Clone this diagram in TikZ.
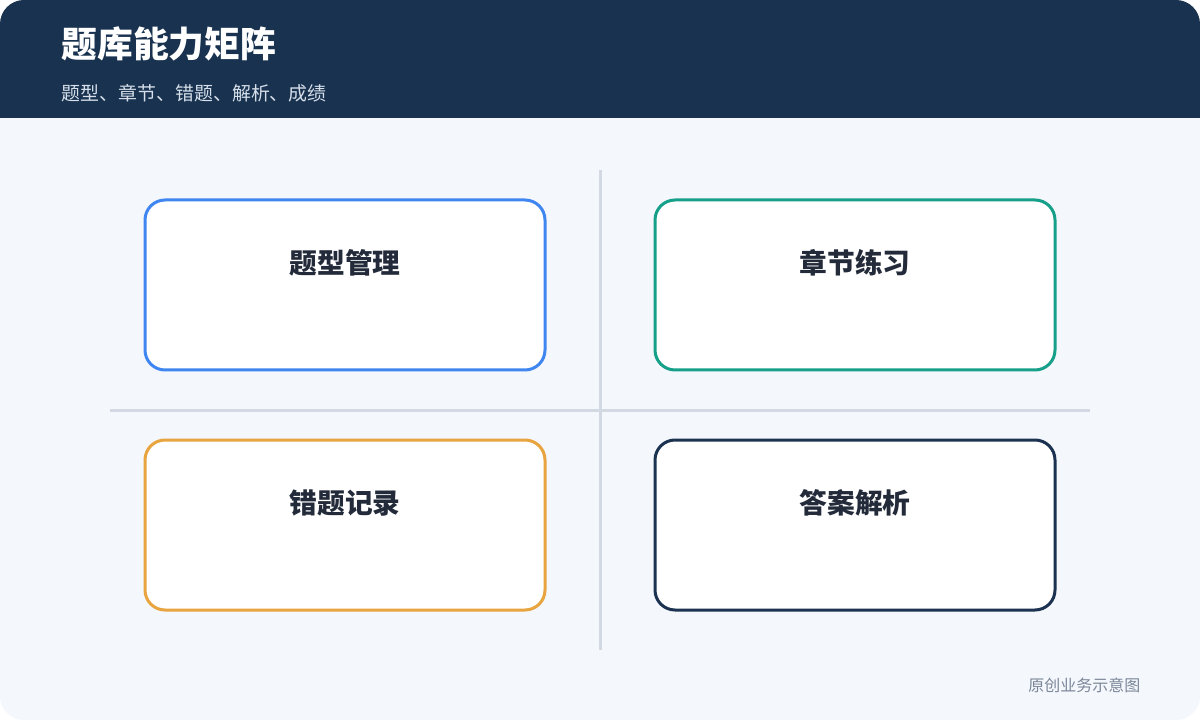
\documentclass[tikz,border=0pt]{standalone}
\usepackage{fontspec}
\setmainfont{Noto Sans CJK SC}
\newfontfamily\cjk{Noto Sans CJK SC}
\definecolor{headbg}{HTML}{18324F}
\definecolor{bodybg}{HTML}{F4F7FC}
\definecolor{divider}{HTML}{D2D9E3}
\definecolor{cblue}{HTML}{3F86F0}
\definecolor{cteal}{HTML}{16A08A}
\definecolor{corange}{HTML}{E8A43F}
\definecolor{cnavy}{HTML}{1B3250}
\definecolor{labeltxt}{HTML}{232B3A}
\definecolor{subtxt}{HTML}{D6DFEA}
\definecolor{foottxt}{HTML}{7B8799}
\tikzset{
  card/.style={draw=#1, line width=2.25pt, fill=white, rounded corners=15pt},
  cardlabel/.style={font=\cjk\bfseries\fontsize{20.8pt}{24pt}\selectfont, text=labeltxt, anchor=center},
  divline/.style={draw=divider, line width=2.25pt}
}
\begin{document}
\begin{tikzpicture}[x=0.75pt,y=-0.75pt]
\useasboundingbox (0,0) rectangle (1200,720);
\fill[white] (0,0) rectangle (1200,720);
\begin{scope}
\clip[rounded corners=18pt] (0,0) rectangle (1200,720);
\fill[bodybg] (0,0) rectangle (1200,720);
\fill[headbg] (0,0) rectangle (1200,118);
\end{scope}
\node[anchor=west, text=white, font=\cjk\bfseries\fontsize{26.8pt}{30pt}\selectfont] (title) at (57,44) {题库能力矩阵};
\node[anchor=west, text=subtxt, font=\cjk\fontsize{14.2pt}{17pt}\selectfont] (subtitle) at (57,93) {题型、章节、错题、解析、成绩};
\coordinate (vtop) at (600,170);
\coordinate (vbot) at (600,650);
\coordinate (hl) at (110,410);
\coordinate (hr) at (1090,410);
\draw[divline] (vtop) -- (vbot);
\draw[divline] (hl) -- (hr);
\draw[card=cblue] (145,200) rectangle (545,370);
\draw[card=cteal] (655,200) rectangle (1055,370);
\draw[card=corange] (145,440) rectangle (545,610);
\draw[card=cnavy] (655,440) rectangle (1055,610);
\node[cardlabel] (l1) at (345,263) {题型管理};
\node[cardlabel] (l2) at (855,263) {章节练习};
\node[cardlabel] (l3) at (345,503) {错题记录};
\node[cardlabel] (l4) at (855,503) {答案解析};
\node[anchor=east, text=foottxt, font=\cjk\fontsize{12pt}{14pt}\selectfont] (foot) at (1145,685) {原创业务示意图};
\end{tikzpicture}
\end{document}
